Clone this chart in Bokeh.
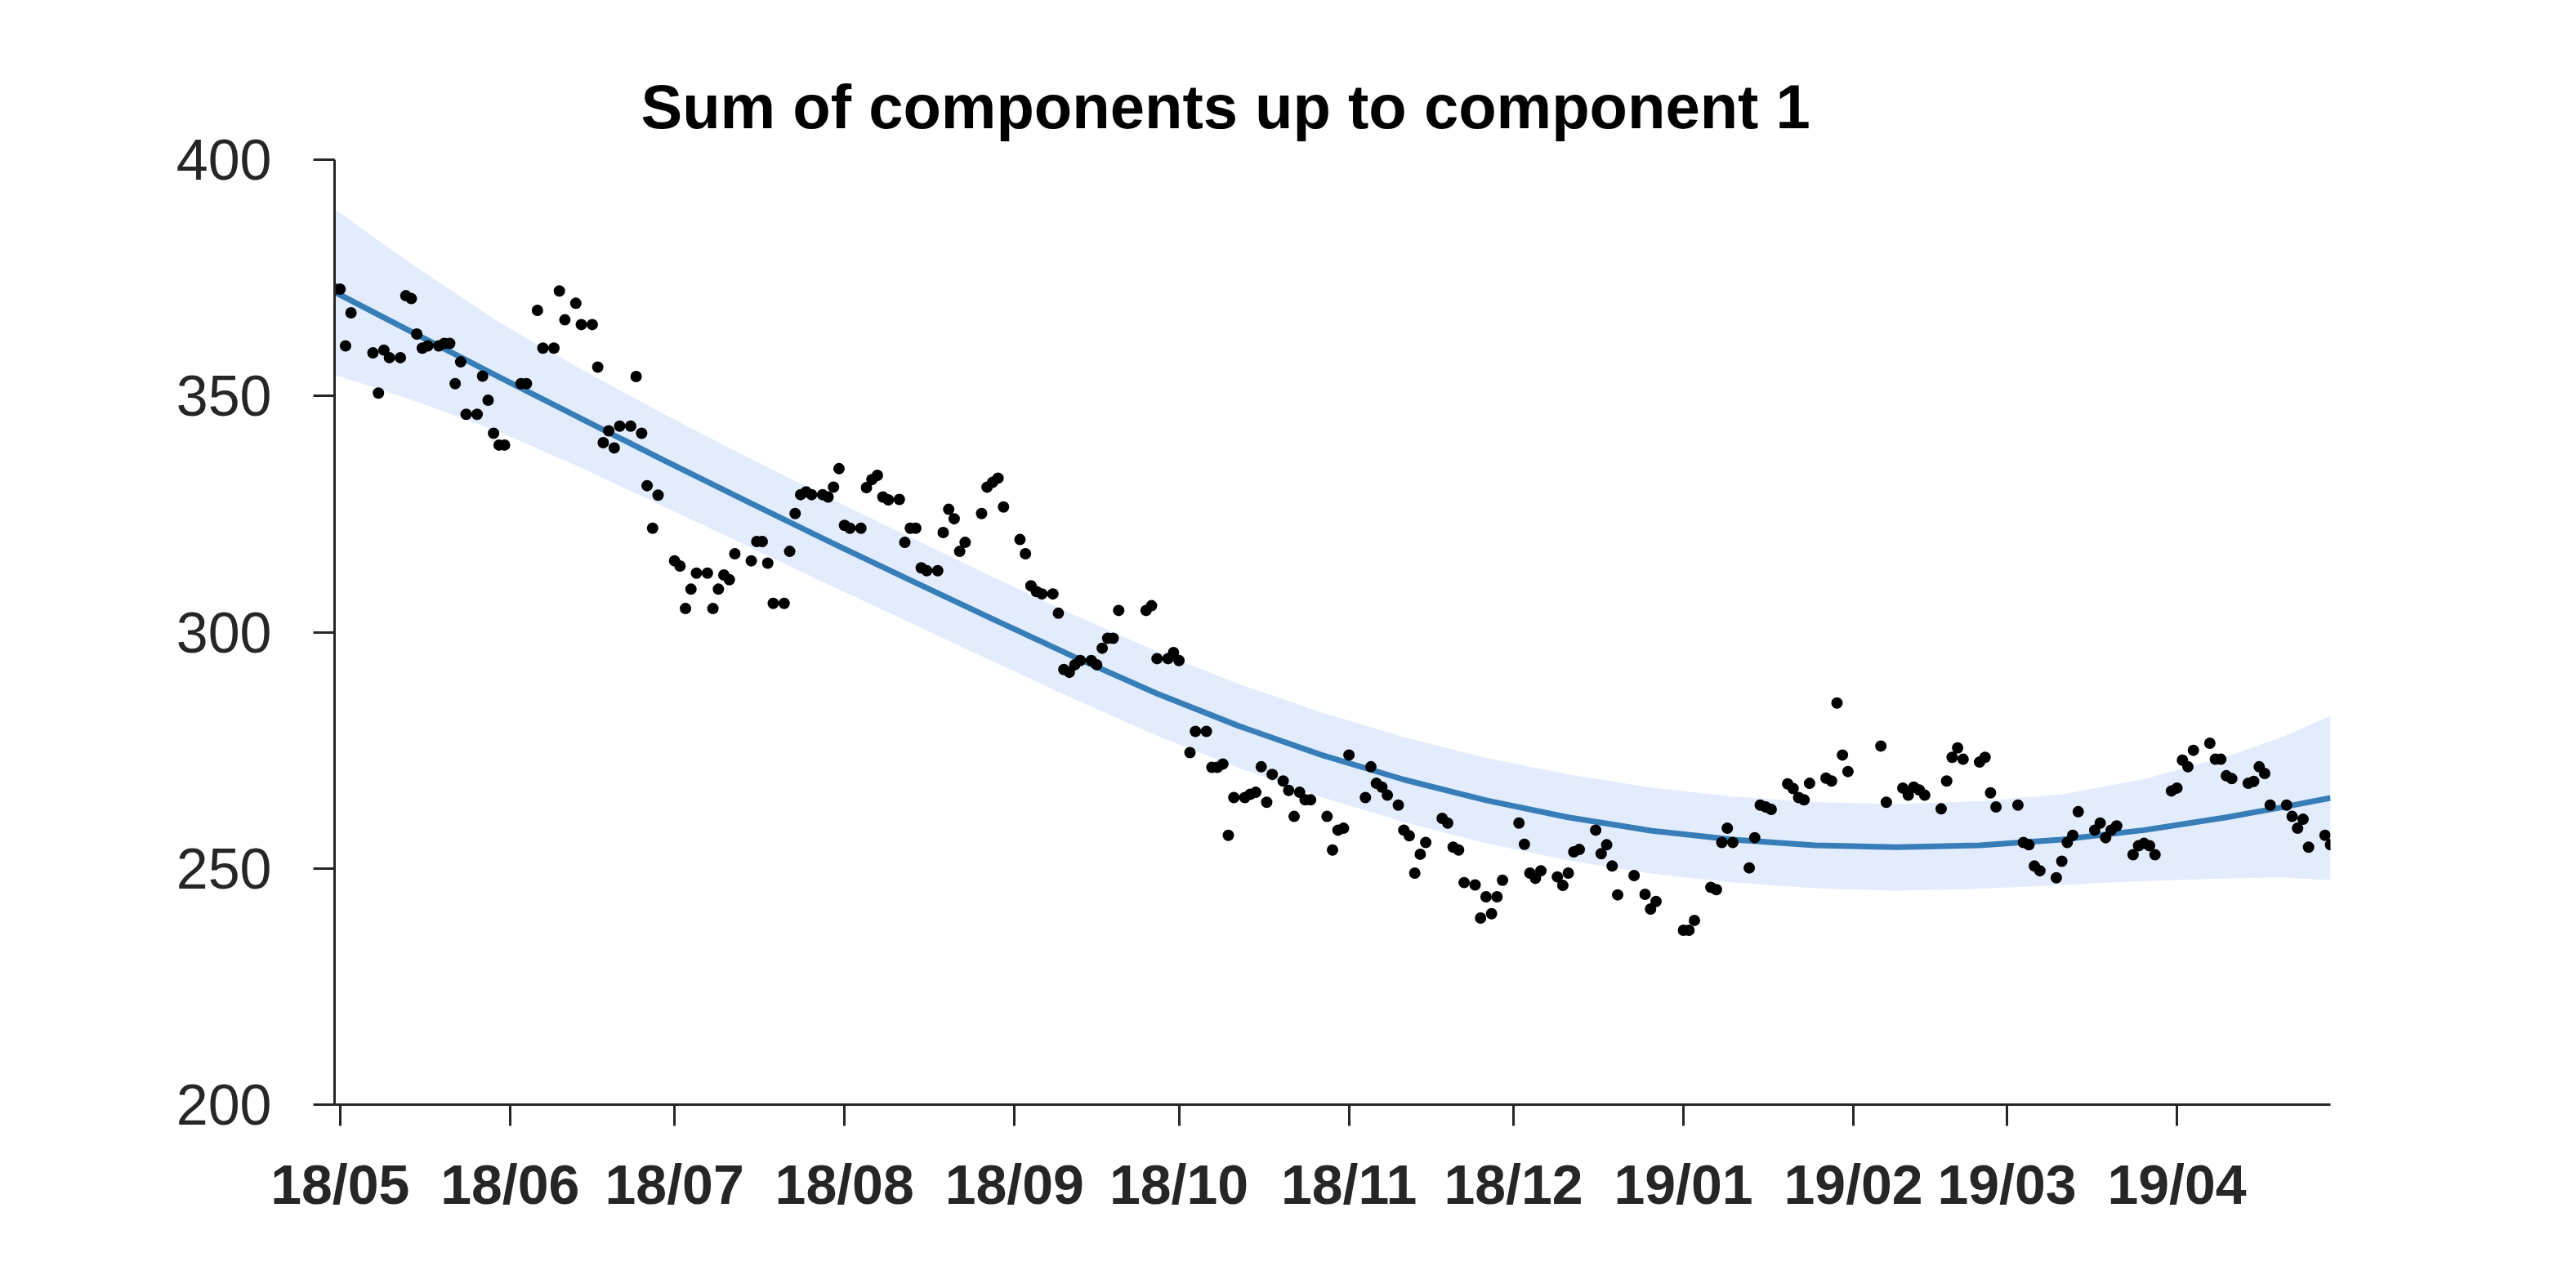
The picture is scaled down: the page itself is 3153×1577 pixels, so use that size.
import pandas as pd
from bokeh.plotting import figure
from bokeh.models import Range1d, FixedTicker, ColumnDataSource
from bokeh.embed import file_html
from bokeh.resources import INLINE

# ---------------- data ----------------
start_date = "2018-04-30"
end_date = "2019-04-29"

# observation day (days after start_date) and observed value
obs_day = [
    0, 1, 2, 3, 7, 8, 9, 10, 12, 13, 14, 15, 16, 17, 19, 20, 21, 22, 23, 24,
    26, 27, 28, 29, 30, 31, 34, 35, 37, 38, 40, 41, 42, 44, 45, 47, 48, 49, 50, 51,
    52, 54, 55, 56, 57, 58, 59, 62, 63, 64, 65, 66, 68, 69, 70, 71, 72, 73,
    76, 77, 78, 79, 80, 82, 83, 84, 85, 86, 87, 89, 90, 91, 92, 93, 94, 96, 97, 98,
    99, 100, 101, 103, 104, 105, 106, 107, 108, 110, 111, 112, 113, 114, 115, 118,
    119, 120, 121, 122, 125, 126, 127, 128, 129, 131, 132, 133, 134, 135, 136, 138,
    139, 140, 141, 142, 143,
    148, 149, 150, 152, 153, 154, 156, 157, 159, 160, 161, 162, 163, 164, 166, 167,
    168, 169, 170, 171, 173, 174, 175, 176, 177, 178, 181, 182, 183, 184, 185, 188,
    189, 190, 191, 192, 194, 195, 196, 197, 198, 199, 202, 203, 204, 205, 206, 208,
    209, 210, 211, 212, 213, 216, 217, 218, 219, 220,
    223, 224, 225, 226, 227, 230, 231, 232, 233, 234, 237, 239, 240, 241, 246, 247,
    248, 251, 252, 253, 254, 255, 258, 259, 260, 261, 262, 265, 266, 267, 268, 269,
    272, 273, 274, 275, 276, 282, 283, 286, 287, 288, 289, 290, 293, 294, 295, 296,
    297, 300, 301, 302, 303, 307, 308, 309, 310, 311, 314, 315, 316, 317, 318, 321,
    322, 323, 324, 325, 328, 329, 330, 331, 332, 335, 336, 337, 338, 339, 342, 343,
    344, 345, 346, 349, 350, 351, 352, 353, 356, 357, 358, 359, 360, 363, 364,
]
obs_value = [
    372.6, 372.6, 360.6, 367.6, 359.1, 350.6, 359.7, 358.1, 358.1, 371.2, 370.6, 363.1,
    360.1, 360.6, 360.6, 361.1, 361.1, 352.6, 357.2, 346.1,
    346.1, 354.2, 349.1, 342.1, 339.6, 339.6, 352.6, 352.6, 368.1, 360.1, 360.1, 372.2,
    366.1, 369.6, 365.1, 365.1, 356.1, 340.1, 342.6, 339.0,
    343.6, 343.6, 354.1, 342.1, 331.0, 322.0, 329.0, 315.1, 314.0, 305.0, 309.1, 312.5,
    312.5, 305.0, 309.1, 312.1, 311.1, 316.6,
    315.1, 319.2, 319.2, 314.6, 306.1, 306.1, 317.1, 325.1, 329.1, 329.7, 329.1, 329.1,
    328.6, 330.7, 334.6, 322.6, 322.0, 322.0, 330.6, 332.3,
    333.2, 328.6, 328.0, 328.1, 319.0, 322.0, 322.0, 313.6, 313.0, 313.0, 321.1, 326.0,
    324.0, 317.1, 319.0, 325.1,
    330.7, 331.7, 332.6, 326.5, 319.6, 316.6, 309.8, 308.6, 308.1, 308.1, 304.0, 292.1,
    291.5, 293.1, 294.0, 294.0,
    293.1, 296.6, 298.7, 298.7, 304.6,
    304.6, 305.6, 294.4, 294.4, 295.7, 294.0, 274.5, 279.0, 279.0, 271.4, 271.4, 272.1,
    257.0, 265.0, 265.0, 265.7,
    266.1, 271.5, 264.0, 269.9, 268.5, 266.5, 261.0, 266.1, 264.5, 264.5, 261.0, 253.9,
    258.1, 258.5, 274.0, 265.0,
    271.5, 268.0, 267.2, 265.5, 263.4, 258.1, 256.9, 249.0, 253.0, 255.5, 260.6, 259.6,
    254.5, 253.9, 247.0, 246.5,
    239.5, 244.0, 240.4, 244.0, 247.5, 259.6, 255.1, 249.0, 247.9, 249.5,
    248.2, 246.4, 249.0, 253.5, 254.0, 258.1, 253.1, 255.0, 250.5, 244.4, 248.5, 244.5,
    241.4, 243.0, 236.9, 236.9,
    239.0, 246.0, 245.5, 255.5, 258.5, 255.5, 250.1, 256.5, 263.4, 263.0, 262.5, 267.9,
    266.9, 265.0, 264.5, 268.0,
    269.1, 268.5, 285.0, 274.0, 270.5, 275.9, 264.0, 267.0, 265.5, 267.2, 266.6, 265.5,
    262.6, 268.5, 273.5, 275.5,
    273.1, 272.5, 273.5, 266.0, 263.0, 263.4, 255.5, 255.0, 250.5, 249.5, 248.0, 251.5,
    255.5, 257.0, 262.0, 258.1,
    259.6, 256.5, 258.1, 259.0, 252.9, 254.8, 255.3, 254.8, 252.9, 266.4, 267.0, 272.9,
    271.5, 275.0, 276.5, 273.1,
    273.1, 269.6, 269.0, 268.0, 268.4, 271.5, 270.1, 263.4, 263.4, 261.0, 258.5, 260.4,
    254.5, 257.0, 255.0,
]

# fitted component (mean) and its uncertainty band, read at fixed days
fit_day = [0, 7, 15, 30, 45, 60, 75, 90, 105, 120, 135, 150, 165, 180, 195, 210,
           225, 240, 255, 270, 285, 300, 315, 330, 345, 355, 364]
fit_mean = [372.0, 367.8, 363.0, 354.0, 345.2, 336.4, 327.8, 319.3, 311.0, 302.8,
            294.7, 287.0, 280.1, 274.0, 268.8, 264.4, 260.8, 258.0, 256.1, 254.9,
            254.5, 254.9, 256.1, 258.1, 260.8, 262.9, 264.9]
fit_upper = [389.6, 383.7, 377.2, 365.6, 355.6, 346.2, 337.2, 328.5, 320.1, 311.7,
             303.6, 295.9, 289.0, 283.0, 277.8, 273.4, 269.9, 267.1, 265.2, 264.0,
             263.6, 264.2, 265.7, 268.9, 273.7, 277.7, 282.3]
fit_lower = [354.4, 351.9, 348.8, 342.4, 334.8, 326.6, 318.4, 310.1, 302.0, 293.8,
             285.8, 278.1, 271.2, 265.1, 259.8, 255.3, 251.7, 248.9, 247.0, 245.8,
             245.3, 245.7, 246.5, 247.3, 247.9, 248.1, 247.5]

tick_dates = ["2018-05-01", "2018-06-01", "2018-07-01", "2018-08-01", "2018-09-01",
              "2018-10-01", "2018-11-01", "2018-12-01", "2019-01-01", "2019-02-01",
              "2019-03-01", "2019-04-01"]
tick_labels = ["18/05", "18/06", "18/07", "18/08", "18/09", "18/10", "18/11",
               "18/12", "19/01", "19/02", "19/03", "19/04"]
y_ticks = [200, 250, 300, 350, 400]

title_text = "Sum of components up to component 1"

# ---------------- figure ----------------
t0 = pd.Timestamp(start_date)
x_end = (pd.Timestamp(end_date) - t0).days
tick_pos = [(pd.Timestamp(d) - t0).days for d in tick_dates]

AX = "#262626"
FONT = "Liberation Sans"

p = figure(width=3137, height=1561, output_backend="svg", toolbar_location=None,
           x_range=Range1d(0, x_end), y_range=Range1d(200, 400),
           min_border_left=409, min_border_right=285,
           min_border_top=195, min_border_bottom=209)
p.outline_line_color = None
p.xgrid.visible = False
p.ygrid.visible = False
p.background_fill_color = "white"
p.border_fill_color = "white"

p.title.text = title_text
p.title.text_font = FONT
p.title.text_font_style = "bold"
p.title.text_font_size = "76px"
p.title.text_color = "black"
p.title.align = "left"
p.title.offset = 375
p.title.standoff = 45

band = ColumnDataSource(dict(x=fit_day, lo=fit_lower, hi=fit_upper, m=fit_mean))
p.varea(x="x", y1="lo", y2="hi", source=band, fill_color="#e3ecfd", fill_alpha=1.0)
p.line(x="x", y="m", source=band, line_color="#377eb8", line_width=7,
       line_join="round")

pts = ColumnDataSource(dict(x=obs_day, y=obs_value))
p.scatter(x="x", y="y", source=pts, size=14, fill_color="black", line_color="black",
          line_width=0)

for ax in (p.xaxis[0], p.yaxis[0]):
    ax.axis_line_color = AX
    ax.axis_line_width = 3
    ax.major_tick_line_color = AX
    ax.major_tick_line_width = 3
    ax.major_tick_out = 26
    ax.major_tick_in = 0
    ax.minor_tick_line_color = None
    ax.major_label_text_color = AX
    ax.major_label_text_font = FONT

p.xaxis.ticker = FixedTicker(ticks=tick_pos)
p.xaxis.major_label_overrides = {pos: lab for pos, lab in zip(tick_pos, tick_labels)}
p.xaxis.major_label_text_font_size = "68px"
p.xaxis.major_label_text_font_style = "bold"
p.xaxis.major_label_standoff = 33

p.yaxis.ticker = FixedTicker(ticks=y_ticks)
p.yaxis.major_label_text_font_size = "70px"
p.yaxis.major_label_standoff = 51

open("out.html", "w").write(file_html(p, INLINE))
